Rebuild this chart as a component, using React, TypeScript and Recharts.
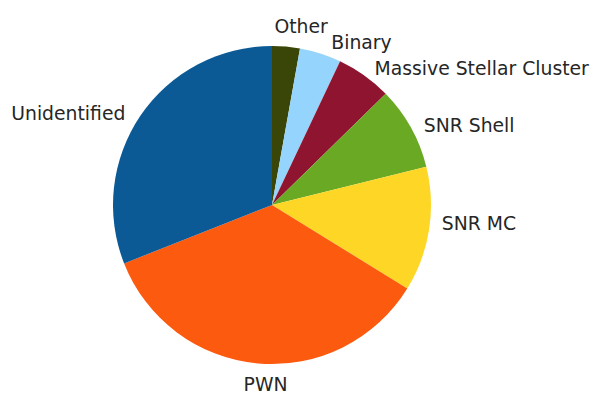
import React from "react";
import { PieChart, Pie, Cell } from "recharts";

const categories = ["Other", "Binary", "Massive Stellar Cluster", "SNR Shell", "SNR MC", "PWN", "Unidentified"];
const counts = [2, 3, 4, 6, 9, 25, 22];
const colors = ["#3a4607", "#95d4fc", "#8e1430", "#6aa923", "#fed726", "#fc5a0e", "#0b5995"];

// hand nudges so the labels sit where the reference put them
const labelNudge: Record<string, [number, number]> = {
  Other: [-13, -4],
  Binary: [6, 4],
  "Massive Stellar Cluster": [1, 6],
  "SNR Shell": [-1, 6],
  "SNR MC": [-3, -8],
  PWN: [9, 5],
  Unidentified: [-2, 7],
};

const data = categories.map((name, i) => ({ name, value: counts[i] }));

const RAD = Math.PI / 180;

function renderLabel(props: any) {
  const { cx, cy, midAngle, outerRadius, name } = props;
  const r = outerRadius * 1.1;
  const x0 = cx + r * Math.cos(-midAngle * RAD);
  const y0 = cy + r * Math.sin(-midAngle * RAD);
  const cos = Math.cos(-midAngle * RAD);
  // near the bottom the label is centred under the slice
  const anchor = cos < -0.06 && cos > -0.15 ? "middle" : x0 > cx ? "start" : "end";
  const [dx, dy] = labelNudge[name] || [0, 0];
  return (
    <text
      x={x0 + dx}
      y={y0 + dy}
      textAnchor={anchor}
      dominantBaseline="central"
      fill="#262626"
      fontSize={18.8}
      fontFamily="DejaVu Sans"
    >
      {name}
    </text>
  );
}

export default function App() {
  return (
    <div style={{ position: "absolute", left: 0, top: 0, width: 602, height: 405, background: "#fff" }}>
      <PieChart width={602} height={405} margin={{ top: 0, right: 0, bottom: 0, left: 0 }}>
        <Pie
          data={data}
          dataKey="value"
          nameKey="name"
          cx={272}
          cy={205}
          outerRadius={159}
          startAngle={90}
          endAngle={-270}
          stroke="none"
          label={renderLabel}
          labelLine={false}
          isAnimationActive={false}
        >
          {data.map((d, i) => (
            <Cell key={d.name} fill={colors[i]} />
          ))}
        </Pie>
      </PieChart>
    </div>
  );
}
